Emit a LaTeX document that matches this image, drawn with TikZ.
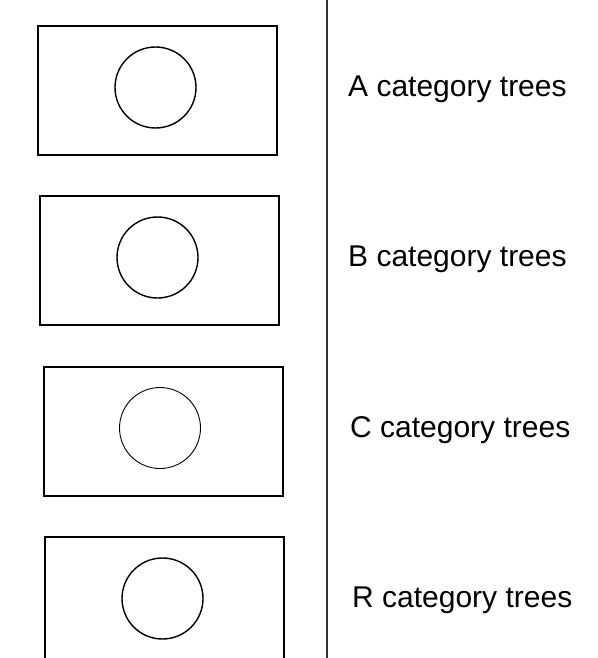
\documentclass[tikz,border=0pt]{standalone}
\usepackage{fontspec}
\setmainfont{Liberation Sans}

\begin{document}
\begin{tikzpicture}[x=1pt,y=-1pt,
  plot/.style={draw, rectangle, line width=1.6pt, minimum width=239pt, minimum height=129pt, inner sep=0pt},
  tree/.style={draw, circle, line width=1.4pt, minimum size=81pt, inner sep=0pt},
  label/.style={anchor=base west, inner sep=0pt, font=\fontsize{30}{36}\selectfont}]
\clip (0,0) rectangle (597,658);
\fill[white] (0,0) rectangle (597,658);

\node [plot] (plotA) at (157.5,90.5) {};
\node [plot] (plotB) at (159.5,260.5) {};
\node [plot] (plotC) at (163.5,431.5) {};
\node [plot, minimum height=160pt] (plotR) at (164.5,617) {};

\node [tree] (treeA) at (155.5,87.5) {};
\node [tree] (treeB) at (157.5,257.5) {};
\node [tree, line width=0.9pt] (treeC) at (160,428) {};
\node [tree] (treeR) at (162.5,598.5) {};

\coordinate (top) at (327,-2);
\coordinate (bottom) at (327,660);
\draw [line width=1.6pt, black!80] (top) -- (bottom);

\node [label] (textA) at (348,97) {A category trees};
\node [label] (textB) at (348,266) {B category trees};
\node [label] (textC) at (350,437) {C category trees};
\node [label] (textR) at (352,607) {R category trees};
\end{tikzpicture}
\end{document}
